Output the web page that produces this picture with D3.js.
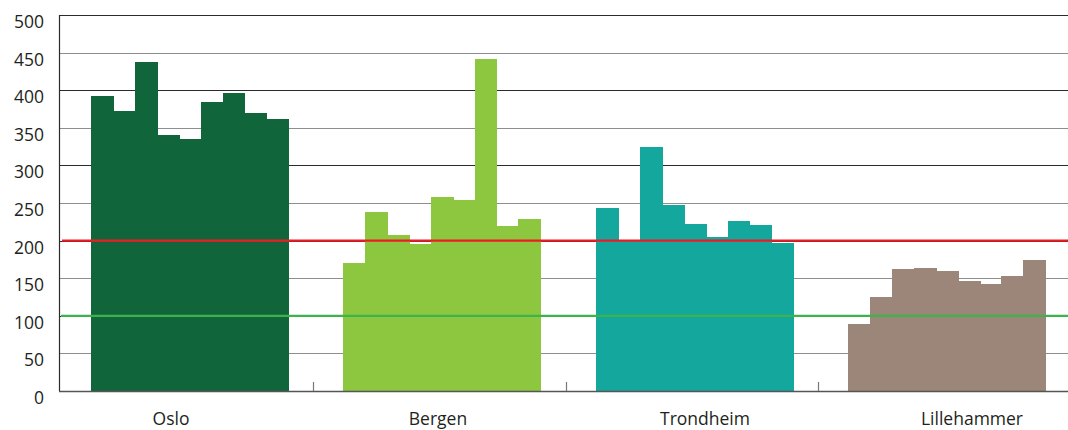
<!DOCTYPE html>
<html>
<head>
<meta charset="utf-8">
<script src="https://cdn.jsdelivr.net/npm/d3@7"></script>
<style>
  html, body { margin: 0; padding: 0; background: #fff; }
  svg { display: block; }
  text { font-family: "Open Sans", "Noto Sans", sans-serif; fill: #231f20; }
</style>
</head>
<body>
<svg id="chart" width="1068" height="430"></svg>
<script>
// Cities along the x axis
const cities = ["Oslo", "Bergen", "Trondheim", "Lillehammer"];

// Nine measurements per city
const osloValues        = [392, 372, 437, 340, 335, 384, 396, 370, 362];
const bergenValues      = [170, 238, 207, 196, 258, 254, 441, 219, 229];
const trondheimValues   = [243, 200, 324, 247, 222, 205, 226, 221, 197];
const lillehammerValues = [89, 125, 162, 163, 160, 146, 142, 153, 174];

const cityColors = ["#10663a", "#8dc63f", "#13a79d", "#9b8679"];

// Y axis ticks and the two reference levels
const yTicks = [0, 50, 100, 150, 200, 250, 300, 350, 400, 450, 500];
const limitUpper = 200;
const limitLower = 100;

const seriesByCity = [osloValues, bergenValues, trondheimValues, lillehammerValues];
const groups = cities.map((c, i) => ({ city: c, values: seriesByCity[i], color: cityColors[i] }));

const svg = d3.select("#chart");
const W = 1068;
const plotLeft = 59, plotTop = 15, plotBottom = 391;

const y = d3.scaleLinear().domain([0, 500]).range([plotBottom, plotTop]);

// One band per city; the last band runs a little past the visible edge
const bandStart = 64, bandStep = 252.3;
const x0 = d3.scaleBand().domain(cities).range([bandStart, bandStart + 4 * bandStep]).padding(0);
const groupPad = 27;
const x1 = d3.scaleBand().domain(d3.range(9)).range([groupPad, x0.bandwidth() - groupPad - 1]).padding(0);

// City labels sit on their own evenly spaced scale
const xLabel = d3.scalePoint().domain(cities).range([171, 972]);

// Horizontal gridlines, alternating dark and light
svg.append("g")
  .selectAll("line")
  .data(yTicks.filter(t => t > 0))
  .join("line")
  .attr("x1", plotLeft).attr("x2", W)
  .attr("y1", d => Math.round(y(d)) + 0.5)
  .attr("y2", d => Math.round(y(d)) + 0.5)
  .attr("stroke", d => (d / 50) % 2 === 1 ? "#8e8e8e" : "#2b2b2b")
  .attr("stroke-width", 1.2);

// Bars
const g = svg.append("g")
  .selectAll("g")
  .data(groups)
  .join("g")
  .attr("transform", d => `translate(${x0(d.city)},0)`);

g.selectAll("rect")
  .data(d => d.values.map((v, i) => ({ v, i, color: d.color })))
  .join("rect")
  .attr("x", d => Math.round(x1(d.i)))
  .attr("width", d => Math.round(x1(d.i) + x1.bandwidth()) - Math.round(x1(d.i)) + 1)
  .attr("y", d => y(d.v))
  .attr("height", d => y(0) - y(d.v))
  .attr("fill", d => d.color)
  .attr("shape-rendering", "crispEdges");

// Reference lines
svg.append("line")
  .attr("x1", 62).attr("x2", W)
  .attr("y1", y(limitUpper)).attr("y2", y(limitUpper))
  .attr("stroke", "#ed1c24").attr("stroke-width", 2.2);
svg.append("line")
  .attr("x1", 61).attr("x2", W)
  .attr("y1", y(limitLower)).attr("y2", y(limitLower))
  .attr("stroke", "#3cb44b").attr("stroke-width", 2.2);

// Left axis line
svg.append("line")
  .attr("x1", plotLeft + 0.5).attr("x2", plotLeft + 0.5)
  .attr("y1", plotTop).attr("y2", plotBottom)
  .attr("stroke", "#2b2b2b").attr("stroke-width", 1.2);

// Bottom axis with ticks between cities
const xAxis = svg.append("g");
xAxis.append("line")
  .attr("x1", plotLeft).attr("x2", W)
  .attr("y1", plotBottom + 0.5).attr("y2", plotBottom + 0.5)
  .attr("stroke", "#555").attr("stroke-width", 1.4);
xAxis.selectAll("line.sep")
  .data(cities.slice(1))
  .join("line")
  .attr("class", "sep")
  .attr("x1", d => Math.round(x0(d)) - 2.5)
  .attr("x2", d => Math.round(x0(d)) - 2.5)
  .attr("y1", plotBottom - 9).attr("y2", plotBottom)
  .attr("stroke", "#777").attr("stroke-width", 1.2);

// Y tick labels
svg.append("g")
  .selectAll("text")
  .data(yTicks)
  .join("text")
  .attr("x", 44)
  .attr("y", d => y(d) + 13)
  .attr("text-anchor", "end")
  .attr("font-size", 17.5)
  .text(d => d);

// City labels
svg.append("g")
  .selectAll("text")
  .data(cities)
  .join("text")
  .attr("x", d => xLabel(d))
  .attr("y", 425)
  .attr("text-anchor", "middle")
  .attr("font-size", 17.5)
  .text(d => d);
</script>
</body>
</html>
